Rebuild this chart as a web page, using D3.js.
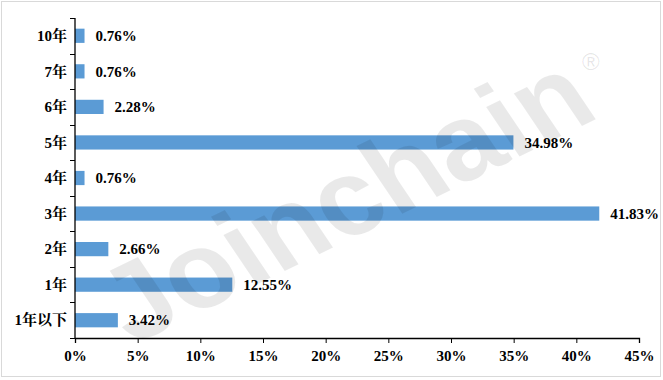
<!DOCTYPE html>
<html>
<head>
<meta charset="utf-8">
<script src="https://cdn.jsdelivr.net/npm/d3@7"></script>
<style>
  body { margin: 0; background: #fff; }
  svg text { font-family: "Liberation Serif", "Times New Roman", "Noto Serif CJK SC", "Noto Sans CJK SC", serif; font-weight: bold; }
</style>
</head>
<body>
<svg id="chart" width="663" height="380"></svg>
<script>
var categories = ["10年", "7年", "6年", "5年", "4年", "3年", "2年", "1年", "1年以下"];
var values = [0.76, 0.76, 2.28, 34.98, 0.76, 41.83, 2.66, 12.55, 3.42];
var xTicks = [0, 5, 10, 15, 20, 25, 30, 35, 40, 45];

(function(d3) {
	var svg = d3.select("#chart");
	var margin = {top: 18, right: 24, bottom: 42, left: 75},
		width = 663 - margin.left - margin.right,
		height = 380 - margin.top - margin.bottom;

	// outer border
	svg.append("rect")
		.attr("x", 1.5).attr("y", 1.5)
		.attr("width", 659).attr("height", 375)
		.attr("fill", "#fff")
		.attr("stroke", "#d9d9d9");

	var g = svg.append("g").attr("transform", "translate(" + margin.left + "," + margin.top + ")");

	var x = d3.scaleLinear().domain([0, 45]).range([0, width]);
	var y = d3.scaleBand().domain(categories).range([0, height]).paddingInner(0.6).paddingOuter(0.3);
	var yb = d3.scaleBand().domain(categories).range([0, height]);

	g.selectAll(".bar")
		.data(values)
		.enter().append("rect")
		.attr("class", "bar")
		.attr("x", 0)
		.attr("y", function(d, i) { return y(categories[i]); })
		.attr("width", function(d) { return x(d); })
		.attr("height", y.bandwidth())
		.attr("fill", "#5b9bd5");

	g.selectAll(".val")
		.data(values)
		.enter().append("text")
		.attr("class", "val")
		.attr("x", function(d) { return x(d) + 11; })
		.attr("y", function(d, i) { return y(categories[i]) + y.bandwidth() / 2; })
		.attr("dy", "0.35em")
		.style("font-size", "15px")
		.attr("fill", "#000")
		.text(function(d) { return d.toFixed(2) + "%"; });

	// x axis
	var xAxis = g.append("g")
		.attr("transform", "translate(0," + height + ")")
		.call(d3.axisBottom(x).tickValues(xTicks).tickFormat(function(d) { return d + "%"; }).tickSize(5).tickSizeOuter(5));
	xAxis.select(".domain").attr("stroke", "#000").attr("stroke-width", 1.3);
	xAxis.selectAll(".tick line").attr("stroke", "#000");
	xAxis.selectAll(".tick text")
		.attr("y", 12)
		.style("font-size", "15px")
		.style("font-family", "'Liberation Serif', 'Times New Roman', serif")
		.attr("fill", "#000");

	// y axis: line + ticks at band boundaries
	g.append("line")
		.attr("x1", 0).attr("x2", 0)
		.attr("y1", 0).attr("y2", height)
		.attr("stroke", "#000").attr("stroke-width", 1.3);
	var bounds = categories.map(function(c) { return yb(c); }).concat([height]);
	g.selectAll(".ytick")
		.data(bounds)
		.enter().append("line")
		.attr("class", "ytick")
		.attr("x1", -5).attr("x2", 0)
		.attr("y1", function(d) { return Math.round(d) + 0.5; })
		.attr("y2", function(d) { return Math.round(d) + 0.5; })
		.attr("stroke", "#000");

	g.selectAll(".ylab")
		.data(categories)
		.enter().append("text")
		.attr("class", "ylab")
		.attr("x", -8)
		.attr("y", function(d) { return yb(d) + yb.bandwidth() / 2; })
		.attr("dy", "0.35em")
		.attr("text-anchor", "end")
		.style("font-size", "15px")
		.attr("fill", "#000")
		.text(function(d) { return d; });

	// watermark, drawn over the bars
	var wm = svg.append("g")
		.attr("transform", "translate(345,198) rotate(-26) skewX(8)");
	wm.append("text")
		.attr("text-anchor", "middle")
		.attr("dy", "0.35em")
		.style("font-family", "Arial, 'Liberation Sans', sans-serif")
		.style("font-size", "112px")
		.style("font-weight", "bold")
		.attr("fill", "#000")
		.attr("fill-opacity", 0.085)
		.text("Joinchain");
	svg.append("text")
		.attr("x", 582).attr("y", 70)
		.style("font-family", "Arial, 'Liberation Sans', sans-serif")
		.style("font-size", "24px")
		.style("font-weight", "normal")
		.attr("fill", "#000")
		.attr("fill-opacity", 0.1)
		.text("®");
})(window.d3);
</script>
</body>
</html>
